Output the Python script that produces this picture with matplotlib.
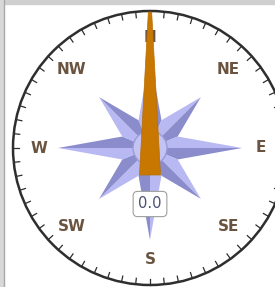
import numpy as np
import matplotlib.pyplot as plt
from matplotlib.patches import Circle, Polygon, Rectangle

# data
directions = ["N", "NE", "E", "SE", "S", "SW", "W", "NW"]
dir_angles = [0, 45, 90, 135, 180, 225, 270, 315]
wind_dir = 0.0          # needle heading in degrees
tick_step = 6           # degrees between dial ticks

W, H = 275, 287
cx, cy = 150, 148
R_dial = 137

fig = plt.figure(figsize=(W / 100, H / 100), dpi=100)
ax = fig.add_axes([0, 0, 1, 1])
ax.set_xlim(0, W)
ax.set_ylim(H, 0)
ax.axis("off")


def pt(r, deg):
    a = np.deg2rad(deg)
    return cx + r * np.sin(a), cy - r * np.cos(a)


# frame bits cropped from the page
ax.add_patch(Rectangle((0, 0), W, 4, color="#cfcfcf", zorder=0))
ax.add_patch(Rectangle((0, 0), 3, H, color="#d8d8d8", zorder=0))
ax.plot([4, 4], [0, H], color="#a8a8a8", lw=1.0, zorder=0)

# dial
ax.add_patch(Circle((cx, cy), R_dial, fill=False, ec="#2e2e2e", lw=1.8, zorder=1))
for d in np.arange(0, 360, tick_step):
    x0, y0 = pt(R_dial, d)
    x1, y1 = pt(R_dial - 6, d)
    ax.plot([x0, x1], [y0, y1], color="#2e2e2e", lw=0.9, zorder=1)

# compass rose
light, dark = "#b8b8f2", "#8a8ccc"
r_in = 30
for d in dir_angles:
    R_tip = 92 if d % 90 == 0 else 72
    tip = pt(R_tip, d)
    left = pt(r_in, d - 22.5)
    right = pt(r_in, d + 22.5)
    ax.add_patch(Polygon([(cx, cy), tip, left], closed=True, fc=light, ec="none", zorder=2))
    ax.add_patch(Polygon([(cx, cy), tip, right], closed=True, fc=dark, ec="none", zorder=2))
ax.add_patch(Circle((cx, cy), 17, fc="#c4c4f4", ec="#9a9ad6", lw=1.0, zorder=3))

# direction labels
for name, d in zip(directions, dir_angles):
    x, y = pt(111, d)
    ax.text(x, y, name, ha="center", va="center", fontsize=11,
            fontweight="bold", color="#6a5440", zorder=4)

# needle
a = np.deg2rad(wind_dir)
needle = [pt(136, wind_dir - 0.7), pt(136, wind_dir + 0.7)]
base_half, base_y = 10.5, 27
bx, by = np.cos(a), np.sin(a)
needle += [(cx + base_half * bx - base_y * by, cy + base_half * by + base_y * bx),
           (cx - base_half * bx - base_y * by, cy - base_half * by + base_y * bx)]
ax.add_patch(Polygon(needle, closed=True, fc="#c87800", ec="#b86e00", lw=0.5, zorder=5))

# value readout
ax.text(cx, 204, f"{wind_dir:.1f}", ha="center", va="center", fontsize=10.5,
        color="#4a5070", zorder=6,
        bbox=dict(boxstyle="round,pad=0.35,rounding_size=0.3", fc="white", ec="#a0a0a0", lw=0.8))

fig.savefig("out.png", dpi=100)
